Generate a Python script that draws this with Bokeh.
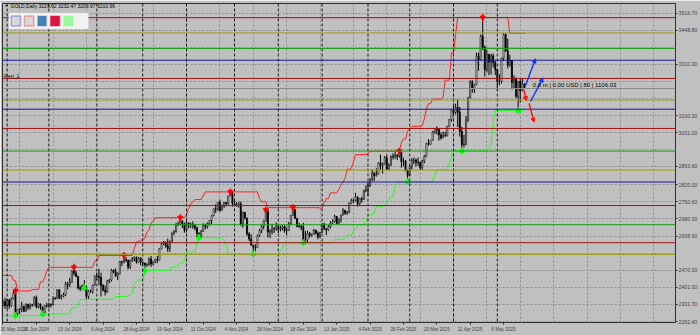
import numpy as np
from bokeh.plotting import figure
from bokeh.models import (Range1d, FixedTicker, LinearAxis, Span, Label, Arrow,
                          NormalHead, BoxAnnotation, ColumnDataSource)
from bokeh.embed import file_html
from bokeh.resources import INLINE

# ---------------- data (XAUUSD daily, 16 May 2024 .. 20 May 2025) ----------------
# the first 10 bars (16 May .. 29 May 2024) lie left of the visible window
n_pre = 10
opens = [2386, 2377, 2415, 2425, 2421, 2379, 2330, 2334, 2351, 2361,
 2338, 2343,
 2327, 2350, 2327, 2355, 2376,  2294, 2311, 2316, 2324, 2304,  2333, 2319, 2329, 2329, 2360,
 2322, 2334, 2319, 2298, 2327,  2326, 2332, 2330, 2356, 2356,  2392, 2358, 2364, 2371, 2415,
 2411, 2422, 2469, 2459, 2445,  2400, 2396, 2409, 2398, 2364,  2387, 2384, 2411, 2447, 2446,
 2442, 2409, 2390, 2382, 2427,  2431, 2472, 2465, 2447, 2456,  2507, 2504, 2514, 2512, 2484,
 2512, 2517, 2524, 2504, 2521,  2503, 2500, 2493, 2495, 2517,  2497, 2506, 2516, 2512, 2558,
 2578, 2582, 2569, 2559, 2586,  2622, 2629, 2657, 2657, 2672,  2658, 2634, 2663, 2657, 2656,
 2653, 2644, 2622, 2608, 2630,  2657, 2649, 2662, 2674, 2693,  2721, 2720, 2748, 2715, 2736,
 2747, 2743, 2774, 2788, 2744,  2736, 2736, 2742, 2659, 2706,  2684, 2619, 2598, 2573, 2565,
 2563, 2612, 2632, 2650, 2671,  2712, 2627, 2631, 2639, 2640,  2650, 2640, 2643, 2650, 2632,
 2633, 2660, 2695, 2718, 2681,  2648, 2652, 2646, 2587, 2594,  2622, 2612, 2617, 2634,
 2621, 2606, 2624, 2658,  2640, 2635, 2648, 2662, 2670,  2690, 2662, 2677, 2696, 2715,
 2703, 2708, 2744, 2755, 2755,  2770, 2741, 2763, 2760, 2794,  2798, 2815, 2843, 2867, 2856,
 2861, 2908, 2898, 2903, 2929,  2883, 2898, 2935, 2933, 2939,  2936, 2952, 2914, 2916, 2876,
 2857, 2893, 2918, 2920, 2910,  2910, 2889, 2916, 2934, 2987,  2984, 3000, 3034, 3047, 3044,
 3022, 3010, 3020, 3019, 3057,  3085, 3124, 3113, 3134, 3114,  3037, 2982, 2983, 3082, 3175,
 3237, 3210, 3227, 3342,  3327, 3424, 3380, 3288, 3349,  3319, 3344, 3316, 3288, 3239,
 3241, 3334, 3431, 3365, 3306,  3325, 3236, 3249, 3179, 3240,  3205, 3229.62]

highs = [2398, 2422, 2450, 2430, 2428, 2385, 2349, 2365, 2364, 2364,
 2351, 2360,
 2354, 2354, 2361, 2387, 2387,  2314, 2318, 2342, 2327, 2336,  2334, 2336, 2334, 2365, 2368,
 2337, 2335, 2324, 2330, 2339,  2339, 2336, 2365, 2363, 2392,  2393, 2372, 2380, 2424, 2424,
 2440, 2469, 2483, 2470, 2449,  2408, 2413, 2431, 2407, 2390,  2393, 2412, 2450, 2462, 2477,
 2461, 2414, 2409, 2432, 2436,  2477, 2474, 2479, 2462, 2509,  2508, 2531, 2525, 2515, 2512,
 2525, 2527, 2527, 2525, 2524,  2504, 2503, 2500, 2523, 2529,  2507, 2518, 2529, 2560, 2586,
 2590, 2589, 2600, 2592, 2625,  2634, 2664, 2670, 2685, 2674,  2665, 2673, 2666, 2665, 2670,
 2660, 2649, 2625, 2635, 2662,  2660, 2666, 2676, 2696, 2722,  2740, 2749, 2759, 2738, 2748,
 2749, 2774, 2790, 2790, 2763,  2748, 2750, 2750, 2710, 2709,  2685, 2627, 2618, 2575, 2577,
 2616, 2639, 2656, 2674, 2716,  2721, 2637, 2660, 2647, 2666,  2651, 2653, 2657, 2654, 2645,
 2667, 2696, 2726, 2721, 2685,  2663, 2654, 2664, 2631, 2632,  2627, 2620, 2639, 2636,
 2629, 2627, 2662, 2665,  2642, 2655, 2670, 2678, 2697,  2692, 2682, 2697, 2724, 2717,
 2711, 2746, 2763, 2763, 2786,  2772, 2765, 2770, 2799, 2817,  2830, 2845, 2882, 2870, 2886,
 2911, 2942, 2909, 2936, 2942,  2906, 2938, 2947, 2955, 2943,  2956, 2953, 2929, 2920, 2882,
 2898, 2928, 2930, 2926, 2930,  2913, 2921, 2940, 2990, 3005,  3001, 3038, 3046, 3057, 3047,
 3033, 3035, 3035, 3059, 3087,  3128, 3149, 3149, 3168, 3136,  3055, 3022, 3099, 3176, 3245,
 3245, 3229, 3357, 3357,  3430, 3500, 3386, 3368, 3353,  3352, 3353, 3326, 3290, 3269,
 3336, 3436, 3435, 3414, 3348,  3325, 3265, 3256, 3240, 3253,  3250, 3232.47]

lows = [2371, 2376, 2413, 2405, 2374, 2326, 2325, 2330, 2340, 2334,
 2323, 2314,
 2314, 2314, 2322, 2352, 2287,  2286, 2293, 2300, 2302, 2302,  2309, 2311, 2322, 2327, 2316,
 2316, 2310, 2293, 2297, 2319,  2318, 2319, 2328, 2350, 2354,  2353, 2352, 2361, 2366, 2393,
 2403, 2420, 2450, 2445, 2392,  2385, 2392, 2401, 2353, 2354,  2379, 2376, 2408, 2431, 2410,
 2364, 2385, 2368, 2379, 2418,  2425, 2458, 2444, 2431, 2454,  2488, 2499, 2504, 2474, 2477,
 2505, 2507, 2498, 2502, 2491,  2488, 2471, 2484, 2490, 2485,  2491, 2500, 2500, 2510, 2556,
 2573, 2563, 2546, 2546, 2586,  2614, 2624, 2651, 2655, 2643,  2624, 2625, 2642, 2643, 2640,
 2633, 2606, 2604, 2603, 2627,  2637, 2641, 2653, 2658, 2691,  2704, 2713, 2708, 2715, 2725,
 2731, 2738, 2772, 2730, 2733,  2730, 2726, 2652, 2644, 2677,  2611, 2590, 2572, 2537, 2548,
 2562, 2606, 2622, 2638, 2669,  2605, 2602, 2617, 2623, 2633,  2622, 2629, 2633, 2624, 2613,
 2631, 2654, 2694, 2680, 2648,  2644, 2634, 2583, 2584, 2583,  2603, 2608, 2616, 2617,
 2597, 2603, 2623, 2635,  2614, 2631, 2642, 2658, 2665,  2656, 2660, 2666, 2694, 2697,
 2696, 2703, 2741, 2744, 2752,  2730, 2736, 2746, 2758, 2789,  2772, 2810, 2834, 2835, 2853,
 2860, 2880, 2864, 2901, 2877,  2880, 2897, 2922, 2925, 2920,  2929, 2889, 2894, 2875, 2832,
 2856, 2882, 2903, 2894, 2896,  2880, 2880, 2906, 2932, 2978,  2982, 2999, 3027, 3023, 2999,
 3002, 3009, 3013, 3016, 3055,  3076, 3100, 3106, 3054, 3015,  2957, 2971, 2980, 3075, 3171,
 3194, 3193, 3224, 3283,  3326, 3368, 3260, 3277, 3265,  3268, 3297, 3266, 3202, 3224,
 3231, 3324, 3360, 3293, 3300,  3207, 3211, 3171, 3121, 3154,  3200, 3209.97]

closes = [2377, 2415, 2425, 2421, 2379, 2330, 2334, 2351, 2361, 2338,
 2343, 2327,
 2350, 2327, 2355, 2376, 2294,  2311, 2316, 2324, 2304, 2333,  2319, 2329, 2329, 2360, 2322,
 2334, 2319, 2298, 2327, 2326,  2332, 2330, 2356, 2356, 2392,  2358, 2364, 2371, 2415, 2411,
 2422, 2469, 2459, 2445, 2400,  2396, 2409, 2398, 2364, 2387,  2384, 2411, 2447, 2446, 2442,
 2409, 2390, 2382, 2427, 2431,  2472, 2465, 2447, 2456, 2507,  2504, 2514, 2512, 2484, 2512,
 2517, 2524, 2504, 2521, 2503,  2500, 2493, 2495, 2517, 2497,  2506, 2516, 2512, 2558, 2578,
 2582, 2569, 2559, 2586, 2622,  2629, 2657, 2657, 2672, 2658,  2634, 2663, 2657, 2656, 2653,
 2644, 2622, 2608, 2630, 2657,  2649, 2662, 2674, 2693, 2721,  2720, 2748, 2715, 2736, 2747,
 2743, 2774, 2788, 2744, 2736,  2736, 2742, 2659, 2706, 2684,  2619, 2598, 2573, 2565, 2563,
 2612, 2632, 2650, 2671, 2716,  2627, 2631, 2639, 2640, 2650,  2640, 2643, 2650, 2632, 2633,
 2660, 2695, 2718, 2681, 2648,  2652, 2646, 2587, 2594, 2622,  2612, 2617, 2634, 2621,
 2606, 2624, 2658, 2640,  2635, 2648, 2662, 2670, 2690,  2662, 2677, 2696, 2715, 2703,
 2708, 2744, 2755, 2755, 2770,  2741, 2763, 2760, 2794, 2798,  2815, 2843, 2867, 2856, 2861,
 2908, 2898, 2903, 2929, 2883,  2898, 2935, 2933, 2939, 2936,  2952, 2914, 2916, 2876, 2857,
 2893, 2918, 2920, 2910, 2910,  2889, 2916, 2934, 2987, 2984,  3000, 3034, 3047, 3044, 3022,
 3010, 3020, 3019, 3057, 3085,  3124, 3113, 3134, 3114, 3037,  2982, 2983, 3082, 3175, 3237,
 3210, 3227, 3342, 3327,  3424, 3380, 3288, 3349, 3319,  3344, 3316, 3288, 3239, 3241,
 3334, 3431, 3365, 3306, 3325,  3236, 3249, 3179, 3240, 3202,  3230, 3210.96]

date_tick_idx = [0, 16, 32, 48, 64, 80, 96, 112, 128, 144, 160, 176, 192, 208, 224, 240]
date_tick_labels = ["30 May 2024", "21 Jun 2024", "15 Jul 2024", "6 Aug 2024", "28 Aug 2024",
                    "19 Sep 2024", "11 Oct 2024", "4 Nov 2024", "26 Nov 2024", "18 Dec 2024",
                    "13 Jan 2025", "4 Feb 2025", "26 Feb 2025", "20 Mar 2025", "11 Apr 2025",
                    "6 May 2025"]
month_start_idx = [2, 22, 45, 67, 88, 111, 132, 153, 175, 195, 216, 237]
vgrid_idx = [8, 24, 40, 56, 72, 88, 104, 120, 136, 152, 168, 184, 200, 216, 232, 248,
             264, 280, 296, 312]

grid_prices = [2262.40, 2331.70, 2401.00, 2470.30, 2539.60, 2608.90, 2680.30, 2750.60,
               2820.00, 2893.60, 2961.70, 3031.00, 3100.30, 3169.60, 3240.00, 3310.30,
               3377.50, 3448.80, 3516.70]
shown_price_labels = [2262.40, 2331.70, 2401.00, 2470.30, 2608.90, 2680.30, 2750.60,
                      2820.00, 2893.60, 3031.00, 3100.30, 3310.30, 3448.80, 3516.70]

level_prices = [3499.20, 3437.22, 3374.14, 3326.07, 3251.89, 3164.12, 3126.76, 3048.28,
                2956.09, 2878.53, 2830.26, 2734.28, 2656.46, 2583.08, 2535.38]
level_kinds = ["red", "olive", "green", "blue", "red", "olive", "blue", "red",
               "green", "olive", "blue", "red", "green", "red", "olive"]
bid_price = 3210.96

fractal_hi_idx = [6, 34, 58, 85, 109, 126, 139, 190, 230]
fractal_lo_idx = [6, 19, 39, 68, 94, 120, 144, 194, 220, 247]

# drawn trend arrows (bar index, price) start -> end
tool_arrows = [
    ("blue", 250.5, 3223.0, 255.3, 3332.0),
    ("blue", 252.9, 3158.0, 258.9, 3254.0),
    ("red", 249.7, 3206.0, 250.9, 3162.0),
    ("red", 252.2, 3151.0, 254.6, 3074.0),
]
info_text = "0.0 m | 0.00 USD | 80 | 1106.03"
header_text = "GOLD,Daily  3229.62 3232.47 3209.97 3210.96"
channel_half_window = 12

# ---------------- geometry (screen px of the reference) ----------------
W, H = 700, 335
FL, FR, FT, FB = 2, 676, 3, 322
X0, XPX = 2.47, 2.089           # px of bar 0, px per bar
Y_REF, P_REF, PPX = 321.0, 2262.4, 0.24563


def dx(px):
    return (px - X0) / XPX


def dy(py):
    return P_REF + (Y_REF - py) / PPX


FONT = "Liberation Sans"
BG = "#c0c0c0"
COL = {"red": "#a01010", "olive": "#9a9a1c", "green": "#12a012", "blue": "#141496"}
TAG = {"red": "#a81818", "olive": "#a4a42a", "green": "#14a814", "blue": "#1a1aa6"}

p = figure(width=W, height=H, output_backend="svg", toolbar_location=None,
           x_range=Range1d(dx(FL), dx(FR)), y_range=Range1d(dy(FB), dy(FT)),
           min_border_left=FL, min_border_right=W - FR, min_border_top=FT,
           min_border_bottom=H - FB,
           background_fill_color=BG, border_fill_color=BG,
           outline_line_color="#303030", outline_line_width=1)
p.xaxis.visible = False
p.yaxis.visible = False

# grid
p.ygrid.ticker = FixedTicker(ticks=grid_prices)
p.ygrid.grid_line_color = "#8e8e8e"
p.ygrid.grid_line_dash = "2 2"
p.xgrid.ticker = FixedTicker(ticks=vgrid_idx)
p.xgrid.grid_line_color = "#8e8e8e"
p.xgrid.grid_line_dash = "2 2"

# axes
bax = LinearAxis(ticker=FixedTicker(ticks=date_tick_idx),
                 major_label_overrides={t: s for t, s in zip(date_tick_idx, date_tick_labels)},
                 major_label_text_align="left", major_label_text_font=FONT,
                 major_label_text_font_size="4.6px", major_label_standoff=2,
                 major_tick_out=2, major_tick_in=0, minor_tick_out=0, minor_tick_in=0,
                 axis_line_color=None, major_tick_line_color="#303030")
p.add_layout(bax, "below")
rax = LinearAxis(ticker=FixedTicker(ticks=shown_price_labels),
                 major_label_overrides={v: f"{v:.2f}" for v in shown_price_labels},
                 major_label_text_font=FONT, major_label_text_font_size="5.2px",
                 major_label_standoff=1, major_tick_out=2, major_tick_in=0,
                 minor_tick_out=0, minor_tick_in=0,
                 axis_line_color=None, major_tick_line_color="#303030")
p.add_layout(rax, "right")

# month separators
for i in month_start_idx:
    p.add_layout(Span(location=i, dimension="height", line_color="#1a1a1a",
                      line_dash="3 2", line_width=1))

# horizontal levels
for lv, k in zip(level_prices, level_kinds):
    p.add_layout(Span(location=lv, dimension="width", line_color=COL[k], line_width=1))
p.add_layout(Span(location=bid_price, dimension="width", line_color="#8a8a8a", line_width=1))

# candles (bar index 0 = 30 May 2024)
n = len(closes)
idx = np.arange(n) - n_pre
o = np.array(opens, float); h = np.array(highs, float)
l = np.array(lows, float); c = np.array(closes, float)
src = ColumnDataSource(dict(x=idx, o=o, h=h, l=l, c=c,
                            top=np.maximum(o, c), bot=np.minimum(o, c),
                            fill=np.where(c >= o, "#ffffff", "#000000")))
p.segment(x0="x", y0="l", x1="x", y1="h", source=src, line_color="#000000", line_width=1)
p.vbar(x="x", width=0.55, top="top", bottom="bot", source=src,
       fill_color="fill", line_color="#000000", line_width=0.6)

# channel indicator: highest high / lowest low of the bars centred on each bar
hw = channel_half_window
red_line = [max(highs[max(0, k - hw):k + hw + 1]) for k in range(n)]
green_line = [min(lows[max(0, k - hw):k + hw + 1]) for k in range(n)]
vis = idx >= 0
p.line(idx[vis], np.array(red_line)[vis], line_color="#ff2020", line_width=1)
p.line(idx[vis], np.array(green_line)[vis], line_color="#20ff20", line_width=1)

# fractal arrows
hx = list(fractal_hi_idx); hy = [highs[i + n_pre] for i in fractal_hi_idx]
lx = list(fractal_lo_idx); ly = [lows[i + n_pre] for i in fractal_lo_idx]
p.scatter(hx, hy, marker="dash", angle=np.pi / 2, size=7, line_color="#ff0000", line_width=1.5)
p.scatter(hx, hy, marker="inverted_triangle", size=5, color="#ff0000")
p.scatter(lx, ly, marker="dash", angle=np.pi / 2, size=7, line_color="#00ff00", line_width=1.5)
p.scatter(lx, ly, marker="triangle", size=5, color="#00ff00")

# trend arrows
for col, xs, ys, xe, ye in tool_arrows:
    cc = "#1030ff" if col == "blue" else "#ff1010"
    p.add_layout(Arrow(end=NormalHead(size=4, fill_color=cc, line_color=cc),
                       x_start=xs, y_start=ys, x_end=xe, y_end=ye,
                       line_color=cc, line_width=1.4))
p.add_layout(Label(x=dx(533), y=dy(84.5), text=info_text, text_font=FONT,
                   text_font_size="6px", text_baseline="middle", text_color="#000000"))

# price tags on the right
for lv, k in zip(level_prices, level_kinds):
    p.add_layout(Label(x=dx(677), y=lv, text=f"{lv:.2f}", text_font=FONT,
                       text_font_size="5.2px", text_baseline="middle",
                       text_color="#f4f4f4", background_fill_color=TAG[k],
                       padding=1))
p.add_layout(Label(x=dx(677), y=bid_price, text=f"{bid_price:.2f}", text_font=FONT,
                   text_font_size="5.2px", text_baseline="middle", text_color="#ffffff",
                   background_fill_color="#000000", padding=1))

# header and panel
p.add_layout(Label(x=dx(4), y=dy(5.5), text="\u25bc", text_font=FONT, text_font_size="3.5px",
                   text_baseline="middle", text_color="#000000"))
p.add_layout(Label(x=dx(10), y=dy(5.5), text=header_text, text_font=FONT,
                   text_font_size="5px", text_baseline="middle", text_color="#000000"))
p.add_layout(Label(x=dx(3), y=dy(75), text="Alert_1", text_font=FONT,
                   text_font_size="5px", text_baseline="middle", text_color="#000000"))

p.add_layout(BoxAnnotation(left=dx(8.5), right=dx(88), top=dy(12.5), bottom=dy(28.5),
                           fill_color="#f2f2f2", fill_alpha=1, line_color="#dddddd"))
buttons = [(10.8, 20, "#d8d8d8", "#0000ff"), (24, 33.3, "#d8d8d8", "#ff0000"),
           (37.3, 46, "#4682b4", "#4682b4"), (50, 59.3, "#dc143c", "#dc143c"),
           (63.3, 72.7, "#98fb98", "#98fb98")]
for x_a, x_b, fc, lc in buttons:
    p.add_layout(BoxAnnotation(left=dx(x_a), right=dx(x_b), top=dy(15.5), bottom=dy(25.5),
                               fill_color=fc, fill_alpha=1, line_color=lc, line_width=1.5))
p.segment(x0=[dx(76)], y0=[dy(16.3)], x1=[dx(85.3)], y1=[dy(16.3)], line_color="#0000ff", line_width=1.5)
p.segment(x0=[dx(76)], y0=[dy(24)], x1=[dx(85.3)], y1=[dy(24)], line_color="#ff0000", line_width=1.5)

open("out.html", "w").write(file_html(p, INLINE))
